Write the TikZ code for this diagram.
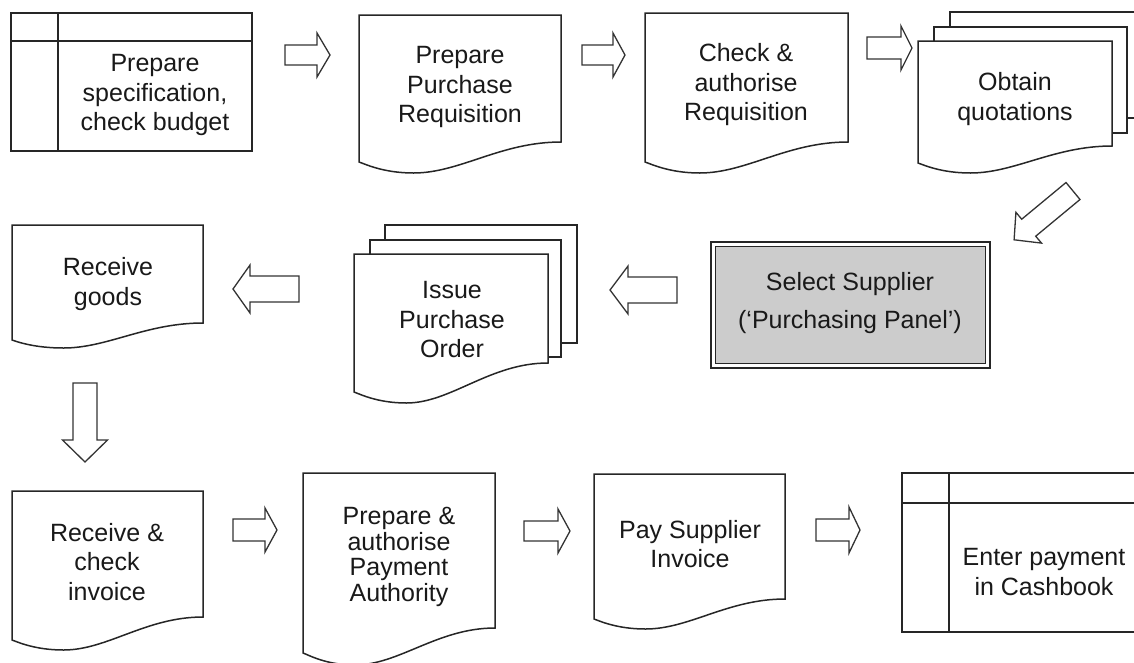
\documentclass[tikz,border=0pt]{standalone}
\usepackage{fontspec}
\setmainfont{Liberation Sans}
\usetikzlibrary{calc}

\tikzset{
  ink/.style={draw=black!85, line width=1.5pt, line join=miter},
  sheet/.style={ink, fill=white},
  blockarrow/.style={draw=black!80, line width=1.3pt, fill=white, line join=miter},
  label/.style={align=center, inner sep=0pt, text=black!90,
    font=\fontsize{25}{29.5}\selectfont},
}

% document symbol: left, top, right, right-bottom y, left drop, wave depth
\newcommand\docshape[6]{%
  \pgfmathsetmacro\dw{#3-#1}%
  \pgfmathsetmacro\ca{#3-0.3*\dw}%
  \pgfmathsetmacro\cb{#1+0.5*\dw}%
  \pgfmathsetmacro\mx{#1+0.27*\dw}%
  \pgfmathsetmacro\cc{#1+0.12*\dw}%
  \pgfmathsetmacro\cd{#1+0.03*\dw}%
  \pgfmathsetmacro\ybl{#4+#5}%
  \pgfmathsetmacro\ybc{#4+#5+2}%
  \pgfmathsetmacro\ymn{#4+#6}%
  \path[sheet] (#1,#2) -- (#3,#2) -- (#3,#4)
    .. controls (\ca,#4) and (\cb,\ymn) .. (\mx,\ymn)
    .. controls (\cc,\ymn) and (\cd,\ybc) .. (#1,\ybl) -- cycle;}

% horizontal block arrow: tail x, tip x, centre y, shaft half, head half, head length
\newcommand\harrow[6]{%
  \pgfmathsetmacro\hb{#2-(#6)}%
  \pgfmathsetmacro\sa{#3-#4}\pgfmathsetmacro\sb{#3+#4}%
  \pgfmathsetmacro\ha{#3-#5}\pgfmathsetmacro\hc{#3+#5}%
  \path[blockarrow] (#1,\sa) -- (\hb,\sa) -- (\hb,\ha) -- (#2,#3)
    -- (\hb,\hc) -- (\hb,\sb) -- (#1,\sb) -- cycle;}

% vertical block arrow: centre x, tail y, tip y, shaft half, head half, head length
\newcommand\varrow[6]{%
  \pgfmathsetmacro\hb{#3-(#6)}%
  \pgfmathsetmacro\sa{#1-#4}\pgfmathsetmacro\sb{#1+#4}%
  \pgfmathsetmacro\ha{#1-#5}\pgfmathsetmacro\hc{#1+#5}%
  \path[blockarrow] (\sa,#2) -- (\sa,\hb) -- (\ha,\hb) -- (#1,#3)
    -- (\hc,\hb) -- (\sb,\hb) -- (\sb,#2) -- cycle;}

\begin{document}
\begin{tikzpicture}[x=1pt, y=-1pt]
\useasboundingbox (0,0) rectangle (1134,662);
\begin{scope}
\clip (0,0) rectangle (1134,662);

% ---- row 1 ----
% internal storage: specification
\path[sheet] (11,13) rectangle (252,151);
\draw[ink] (58,13) -- (58,151) (11,41) -- (252,41);
\node[label] (spec) at (155,95) {Prepare\\specification,\\check budget};

\harrow{285}{330}{55}{10}{22}{13}

\docshape{359}{15}{561}{142}{20}{31}
\node[label] (req) at (460,87) {Prepare\\Purchase\\Requisition};

\harrow{582}{625}{55}{10}{22}{12}

\docshape{645}{13}{848}{142}{20}{31}
\node[label] (auth) at (746,85) {Check \&\\authorise\\Requisition};

\harrow{867}{912}{48}{11}{22}{11}

% multiple documents: quotations
\path[sheet] (950,12) rectangle (1142,118);
\path[sheet] (934,27) rectangle (1127,133);
\docshape{918}{41}{1112}{146}{17}{27}
\node[label] (quote) at (1015,99) {Obtain\\quotations};

% diagonal block arrow down to the supplier panel
\path[blockarrow] (1066,182.5) -- (1080,199.5) -- (1035.7,236.2) -- (1041.5,243.1)
  -- (1014.1,239.8) -- (1015.9,212.3) -- (1021.7,219.2) -- cycle;

% ---- row 2 ----
\path[ink, fill=white] (711,242) rectangle (990,368);
\path[ink, fill=gray!40] (715.5,246.5) rectangle (985.5,363.5);
\node[label, font=\fontsize{25}{38}\selectfont] (panel) at (850,303)
  {Select Supplier\\(‘Purchasing Panel’)};

\harrow{677}{610}{290}{13}{24}{-18}

\path[sheet] (385,225) rectangle (577,343);
\path[sheet] (370,240) rectangle (561,357);
\docshape{354}{254}{548}{363}{29}{40}
\node[label] (order) at (452,320) {Issue\\Purchase\\Order};

\harrow{299}{233}{289}{13}{24}{-17}

\docshape{12}{225}{203}{323}{17}{25}
\node[label] (goods) at (108,284) {Receive\\goods};

\varrow{85}{383}{462}{12}{22.5}{22}

% ---- row 3 ----
\docshape{12}{491}{203}{617}{23}{33}
\node[label] (inv) at (107,562) {Receive \&\\check\\invoice};

\harrow{233}{277}{530}{11}{22}{12}

\docshape{303}{473}{495}{628}{25}{37}
\node[label, font=\fontsize{25}{25.5}\selectfont] (pay) at (399,557)
  {Prepare \&\\authorise\\Payment\\Authority};

\harrow{524}{570}{531}{10}{22}{12}

\docshape{594}{474}{785}{599}{20}{30}
\node[label] (sup) at (690,544) {Pay Supplier\\Invoice};

\harrow{816}{860}{530}{11}{23}{11}

% internal storage: cashbook
\path[sheet] (902,473) rectangle (1145,632);
\draw[ink] (949,473) -- (949,632) (902,503) -- (1145,503);
\node[label] (cash) at (1044,572) {Enter payment\\in Cashbook};
\end{scope}
\end{tikzpicture}
\end{document}
